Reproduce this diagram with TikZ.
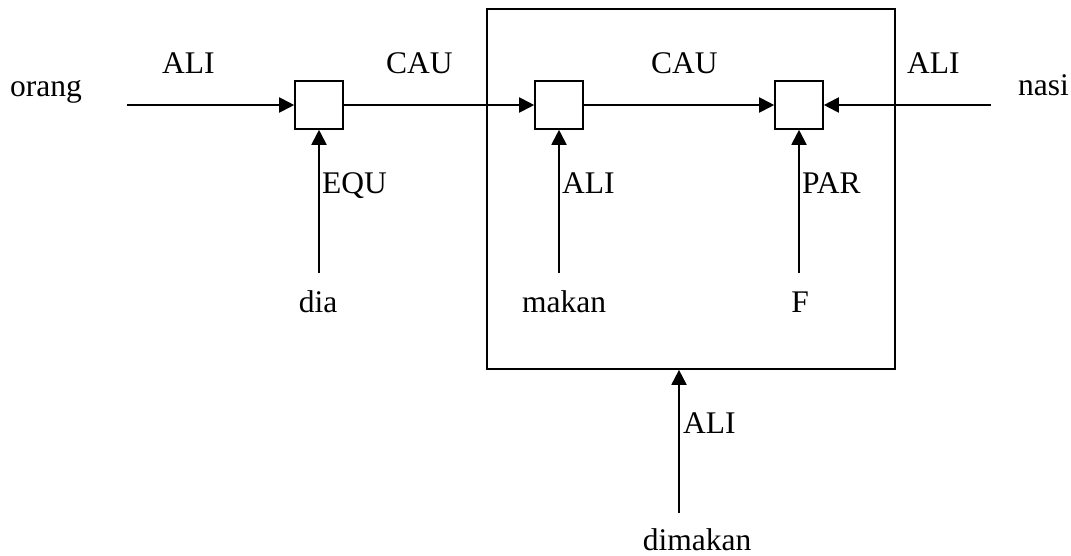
\documentclass[tikz,border=0pt]{standalone}
\usepackage{fontspec}
\setmainfont{Liberation Serif}
\usetikzlibrary{arrows.meta}
\begin{document}
\begin{tikzpicture}[x=1pt,y=-1pt,
  every node/.style={font=\fontsize{31.5}{36}\selectfont},
  cbox/.style={draw,line width=1.6pt,minimum width=48pt,minimum height=48pt,inner sep=0pt},
  lbl/.style={inner sep=0pt,anchor=base west},
  word/.style={inner sep=0pt,anchor=base},
  arr/.style={line width=1.9pt,-{Triangle[length=15pt 0 0,width=15pt 0 0]}}]
\useasboundingbox (0,0) rectangle (1071,555);
% big frame
\node[draw,line width=1.7pt,minimum width=408pt,minimum height=360pt,inner sep=0pt] (frame) at (691,189) {};
% concept boxes
\node[cbox] (b1) at (319,105) {};
\node[cbox] (b2) at (559,105) {};
\node[cbox] (b3) at (799,105) {};
% words
\node[lbl] (orang) at (10,96) {orang};
\node[lbl] (nasi) at (1018,95) {nasi};
\node[word] (dia) at (318,312) {dia};
\node[word] (makan) at (564,312) {makan};
\node[word] (F) at (800,312) {F};
\node[word] (dimakan) at (697,550) {dimakan};
% relation labels
\node[lbl] (l1) at (162,73) {ALI};
\node[lbl] (l2) at (386,73) {CAU};
\node[lbl] (l3) at (651,73) {CAU};
\node[lbl] (l4) at (907,73) {ALI};
\node[lbl] (l5) at (322,193) {EQU};
\node[lbl] (l6) at (562,193) {ALI};
\node[lbl] (l7) at (802,193) {PAR};
\node[lbl] (l8) at (683,433) {ALI};
% connector ends
\coordinate (orang-e) at (127,105);
\coordinate (nasi-w) at (991,105);
\coordinate (dia-n) at (319,273);
\coordinate (makan-n) at (559,273);
\coordinate (F-n) at (799,273);
\coordinate (dimakan-n) at (679,513);
% connectors
\draw[arr] (orang-e) -- (b1.west);
\draw[arr] (b1.east) -- (b2.west);
\draw[arr] (b2.east) -- (b3.west);
\draw[arr] (nasi-w) -- (b3.east);
\draw[arr] (dia-n) -- (b1.south);
\draw[arr] (makan-n) -- (b2.south);
\draw[arr] (F-n) -- (b3.south);
\draw[arr] (dimakan-n) -- (dimakan-n |- frame.south);
\end{tikzpicture}
\end{document}
